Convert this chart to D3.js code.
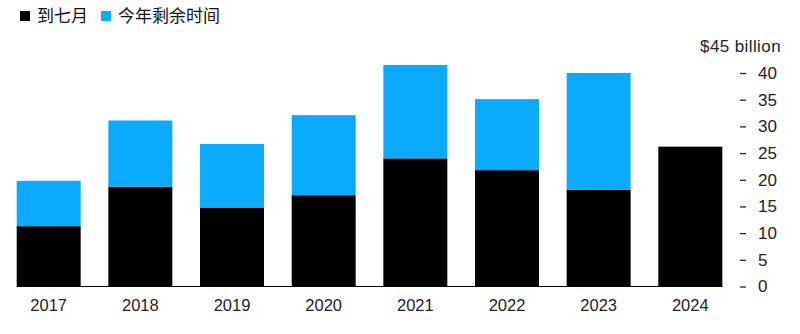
<!DOCTYPE html>
<html>
<head>
<meta charset="utf-8">
<script src="https://cdn.jsdelivr.net/npm/d3@7"></script>
<style>
  html, body { margin: 0; padding: 0; background: #fff; }
  svg { display: block; font-family: "Liberation Sans", Arial, sans-serif; }
  .legend text { font-family: "Noto Sans CJK SC", sans-serif; font-size: 17px; fill: #111; }
  .y-axis text { font-size: 17px; fill: #222; }
  .x-label { font-size: 16.5px; fill: #222; }
</style>
</head>
<body>
<div id="chart"></div>
<script>
// Daten (Mrd. USD)
const years = ["2017", "2018", "2019", "2020", "2021", "2022", "2023", "2024"];
const toJuly = [11.3, 18.7, 14.8, 17.1, 24.0, 21.8, 18.1, 26.2];
const restOfYear = [8.5, 12.4, 11.9, 15.0, 17.5, 13.3, 21.9, 0];
const yTicks = [0, 5, 10, 15, 20, 25, 30, 35, 40];
const seriesNames = ["到七月", "今年剩余时间"];
const colors = ["#000000", "#0aaaff"];

const width = 800;
const height = 334;

const svg = d3.select("#chart")
    .append("svg")
    .attr("width", width)
    .attr("height", height);

const x = d3.scaleBand()
    .domain(years)
    .range([16.7, 722.3])
    .paddingInner(0.302)
    .paddingOuter(0);

const y = d3.scaleLinear()
    .domain([0, 45])
    .range([286.5, 46.3]);

// Stapel aufbauen
const rows = years.map((yr, i) => ({ year: yr, toJuly: toJuly[i], rest: restOfYear[i] }));
const stack = d3.stack().keys(["toJuly", "rest"])(rows);

svg.append("g")
    .selectAll("g")
    .data(stack)
    .join("g")
    .attr("fill", (d, i) => colors[i])
    .selectAll("rect")
    .data(d => d.filter(s => s[1] > s[0]))
    .join("rect")
    .attr("x", d => x(d.data.year))
    .attr("y", d => y(d[1]))
    .attr("width", x.bandwidth())
    .attr("height", d => y(d[0]) - y(d[1]));

// Grundlinie
svg.append("line")
    .attr("x1", x.range()[0])
    .attr("x2", x.range()[1])
    .attr("y1", y(0))
    .attr("y2", y(0))
    .attr("stroke", "#000")
    .attr("stroke-width", 1);

// x-Beschriftung
svg.append("g")
    .selectAll("text")
    .data(years)
    .join("text")
    .attr("class", "x-label")
    .attr("x", d => x(d) + x.bandwidth() / 2)
    .attr("y", 310.5)
    .attr("text-anchor", "middle")
    .text(d => d);

// y-Achse rechts
const yAxis = svg.append("g")
    .attr("class", "y-axis")
    .attr("transform", "translate(740,0)")
    .call(d3.axisRight(y).tickValues(yTicks).tickSize(6).tickPadding(12));
yAxis.select(".domain").remove();
yAxis.selectAll(".tick line").attr("stroke", "#222").attr("stroke-width", 1.3);
yAxis.selectAll(".tick text").attr("font-family", null).attr("font-size", null);

svg.append("text")
    .attr("x", 781)
    .attr("y", y(45))
    .attr("dy", "0.32em")
    .attr("text-anchor", "end")
    .style("font-size", "17px")
    .style("letter-spacing", "0.4px")
    .attr("fill", "#222")
    .text("$45 billion");

// Legende
const legend = svg.append("g").attr("class", "legend");
const legendX = [20, 101];
seriesNames.forEach((name, i) => {
    legend.append("rect")
        .attr("x", legendX[i])
        .attr("y", 11)
        .attr("width", 10)
        .attr("height", 10)
        .attr("fill", colors[i]);
    legend.append("text")
        .attr("x", legendX[i] + 17)
        .attr("y", 16)
        .attr("dy", "0.35em")
        .text(name);
});
</script>
</body>
</html>
